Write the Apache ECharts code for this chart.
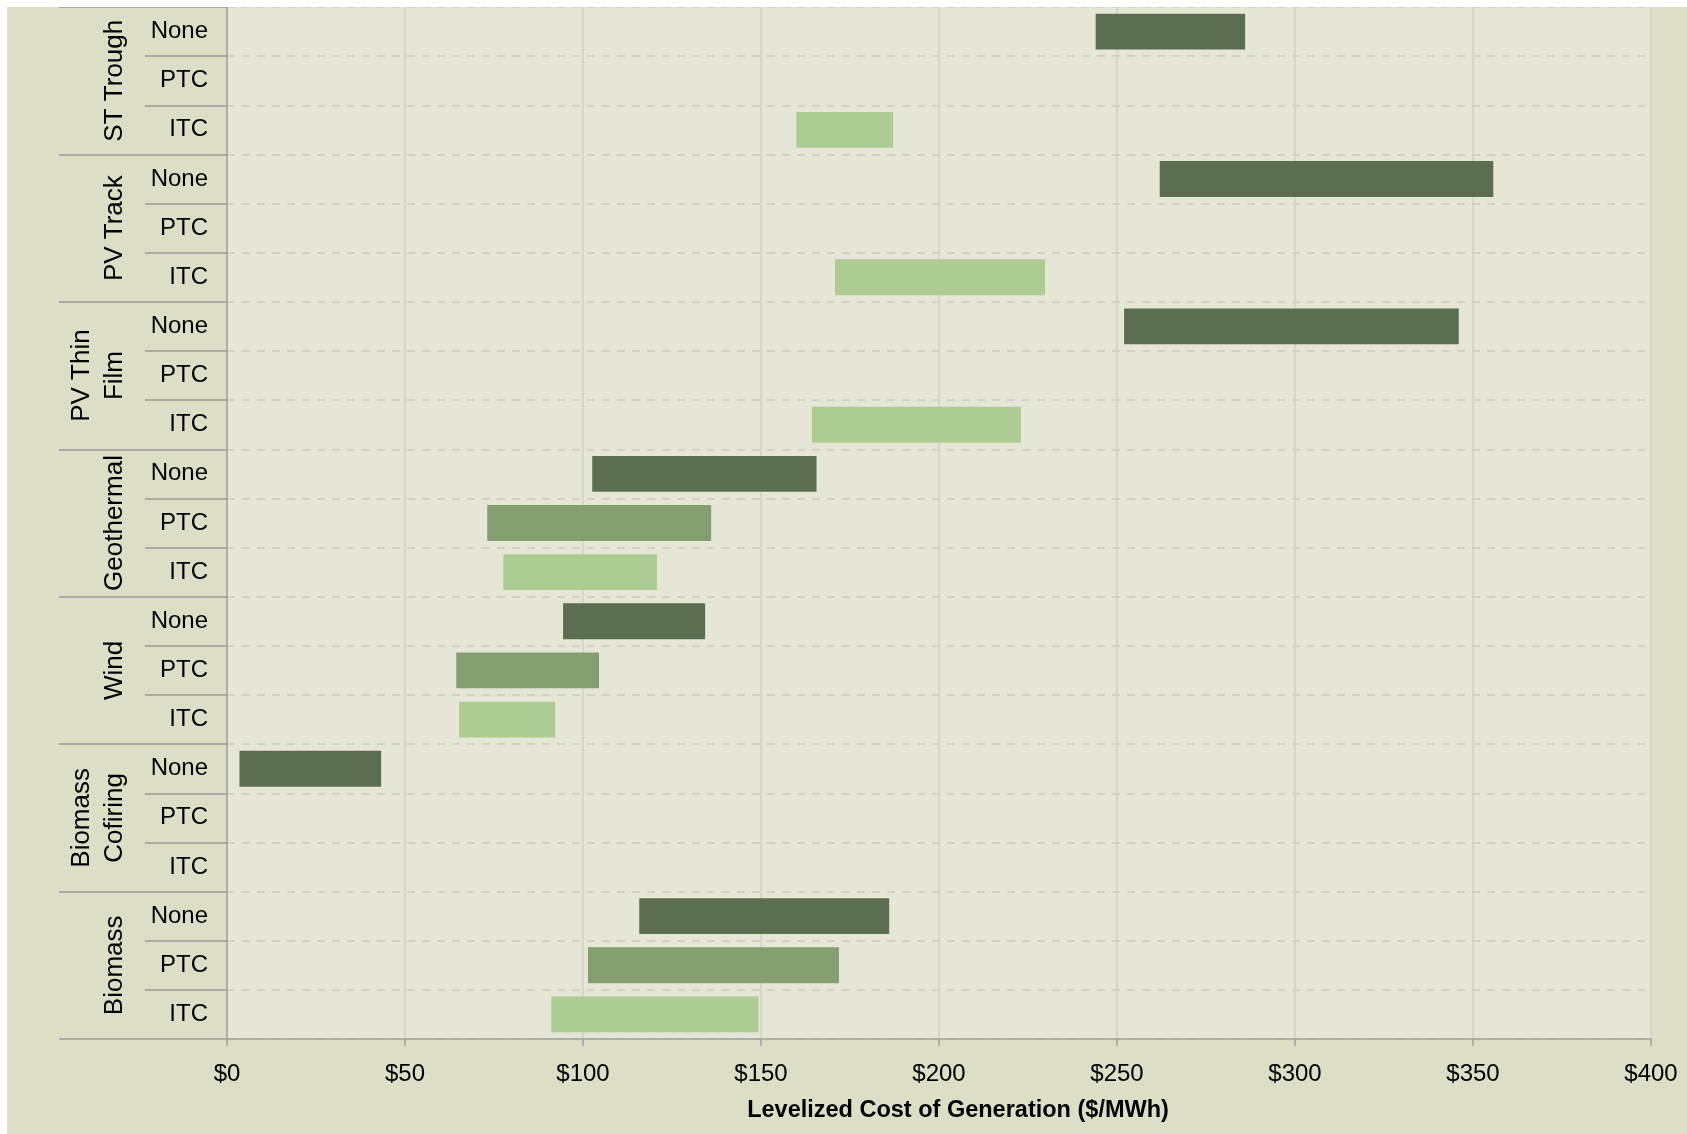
<!DOCTYPE html>
<html>
<head>
<meta charset="utf-8">
<script src="https://cdn.jsdelivr.net/npm/echarts@6/dist/echarts.min.js"></script>
<style>
  html, body { margin: 0; padding: 0; background: #ffffff; }
  #chart { position: absolute; left: 7px; top: 7px; width: 1680px; height: 1127px; }
</style>
</head>
<body>
<div id="chart"></div>
<script>
// Technology groups (top to bottom) and incentive cases within each group
const groups = ['ST Trough', 'PV Track', 'PV Thin\nFilm', 'Geothermal', 'Wind', 'Biomass\nCofiring', 'Biomass'];
const incentives = ['None', 'PTC', 'ITC'];

// Levelized cost ranges ($/MWh), one entry per group; null = no range
const noneLow  = [244, 262, 252, 102.6, 94.4, 3.5, 115.8];
const noneHigh = [286, 355.7, 346, 165.6, 134.3, 43.3, 186];
const ptcLow   = [null, null, null, 73.1, 64.4, null, 101.4];
const ptcHigh  = [null, null, null, 136, 104.5, null, 171.9];
const itcLow   = [159.9, 170.8, 164.3, 77.6, 65.2, null, 91.1];
const itcHigh  = [187.1, 229.8, 223, 120.8, 92.2, null, 149.3];

const xTicks = { min: 0, max: 400, step: 50 };

const colors = { None: '#5B6F50', PTC: '#859E70', ITC: '#ADCC94' };
const font = "'Liberation Sans', Arial, sans-serif";

// one label per row: incentive repeated for each group
const rowLabels = [];
groups.forEach(() => incentives.forEach(c => rowLabels.push(c)));

function rangeData(lows, highs, offset) {
  const out = [];
  lows.forEach((lo, g) => {
    if (lo != null && highs[g] != null) out.push([g * 3 + offset, lo, highs[g]]);
  });
  return out;
}

function renderRange(params, api) {
  const row = api.value(0);
  const start = api.coord([api.value(1), row]);
  const end = api.coord([api.value(2), row]);
  const band = api.size([0, 1])[1];
  const h = band * 0.73;
  return {
    type: 'rect',
    shape: { x: start[0], y: start[1] - h / 2, width: end[0] - start[0], height: h },
    style: { fill: api.visual('color') }
  };
}

function rangeSeries(name, lows, highs, offset) {
  return {
    type: 'custom',
    name: name,
    xAxisIndex: 0,
    yAxisIndex: 0,
    itemStyle: { color: colors[name] },
    encode: { x: [1, 2], y: 0 },
    renderItem: renderRange,
    data: rangeData(lows, highs, offset)
  };
}

const chart = echarts.init(document.getElementById('chart'));
chart.setOption({
  backgroundColor: '#DEDEC7',
  animation: false,
  textStyle: { fontFamily: font },
  grid: {
    left: 220, top: 0, width: 1424, height: 1032,
    show: true, backgroundColor: '#E5E6D6', borderWidth: 0
  },
  xAxis: {
    type: 'value',
    min: xTicks.min, max: xTicks.max, interval: xTicks.step,
    name: 'Levelized Cost of Generation ($/MWh)',
    nameLocation: 'middle',
    nameGap: 60,
    nameTextStyle: { fontFamily: font, fontSize: 23.5, fontWeight: 'bold', color: '#000', padding: [0, 0, 0, 38] },
    axisLine: { show: true, lineStyle: { color: '#A0A0A0', width: 1.5 } },
    axisTick: { show: true, length: 7, lineStyle: { color: '#A0A0A0', width: 1.5 } },
    axisLabel: { fontFamily: font, fontSize: 24, color: '#000', margin: 23, formatter: v => '$' + v },
    splitLine: { show: true, lineStyle: { color: '#CFCFC8', width: 1.5 } }
  },
  yAxis: [
    {
      type: 'category',
      data: rowLabels,
      inverse: true,
      position: 'left',
      axisLine: { show: true, lineStyle: { color: '#A0A0A0', width: 1.5 } },
      axisTick: { show: true, interval: 0, length: 82, lineStyle: { color: '#9A9A9A', width: 1.5 } },
      axisLabel: { interval: 0, fontFamily: font, fontSize: 24, color: '#000', margin: 19 },
      splitLine: { show: true, interval: 0, lineStyle: { color: '#CACAC2', width: 1.5, type: [8, 7] } }
    },
    {
      type: 'category',
      data: groups,
      inverse: true,
      position: 'left',
      axisLine: { show: false },
      axisTick: { show: true, interval: 0, length: 168, lineStyle: { color: '#9A9A9A', width: 1.5 } },
      axisLabel: { interval: 0, fontFamily: font, fontSize: 26, color: '#000', rotate: 90, margin: 96, lineHeight: 33 },
      splitLine: { show: false }
    }
  ],
  series: [
    rangeSeries('None', noneLow, noneHigh, 0),
    rangeSeries('PTC', ptcLow, ptcHigh, 1),
    rangeSeries('ITC', itcLow, itcHigh, 2)
  ]
});
</script>
</body>
</html>
